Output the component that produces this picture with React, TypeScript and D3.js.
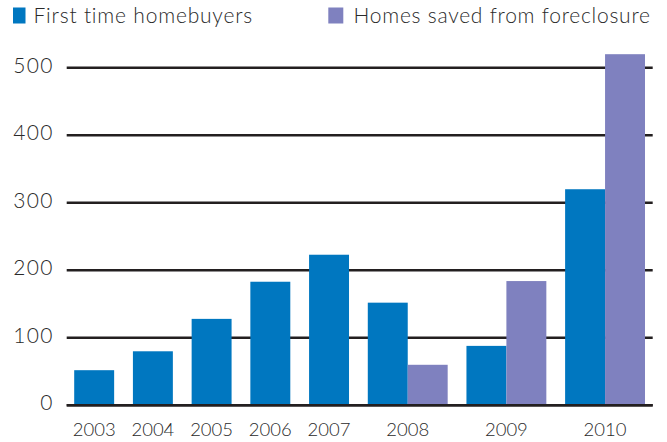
import React from "react";
import * as d3 from "d3";

const years: string[] = ["2003", "2004", "2005", "2006", "2007", "2008", "2009", "2010"];
const firstTimeHomebuyers: (number | null)[] = [52, 80, 128, 183, 223, 152, 88, 320];
const homesSaved: (number | null)[] = [null, null, null, null, null, 60, 184, 520];
const yTicks: number[] = [0, 100, 200, 300, 400, 500];
const seriesNames: string[] = ["First time homebuyers", "Homes saved from foreclosure"];

const W = 667;
const H = 442;
const BLUE = "#0077c0";
const PURPLE = "#7f81bf";
const GRID = "#231f20";
const TEXT = "#2a2a2a";
const FONT = "Lato, 'Open Sans', sans-serif";

export default function App() {
  const plotLeft = 66.7;
  const plotRight = 652.7;
  const barStart = 74.2;
  const barEnd = 645;
  const gapUnits = 0.47;

  const y = d3.scaleLinear().domain([0, 500]).range([405.3, 67.7]);

  const series = [firstTimeHomebuyers, homesSaved];
  const colors = [BLUE, PURPLE];

  const groups = years.map((yr, i) => {
    const vals = series
      .map((s, si) => ({ si, v: s[i] }))
      .filter((d) => d.v !== null && d.v !== undefined) as { si: number; v: number }[];
    return { yr, vals };
  });
  let cursor = 0;
  const groupPos = groups.map((g, i) => {
    const start = cursor;
    cursor += g.vals.length;
    const end = cursor;
    if (i < groups.length - 1) cursor += gapUnits;
    return { ...g, start, end };
  });
  const x = d3.scaleLinear().domain([0, cursor]).range([barStart, barEnd]);

  const ls = 1.3;

  return (
    <svg
      width={W}
      height={H}
      style={{ position: "absolute", left: 0, top: 0, background: "#fff" }}
      fontFamily={FONT}
      fontWeight={300}
    >
      {/* legend */}
      <rect x={13} y={7.5} width={12.5} height={16} fill={BLUE} />
      <text x={33.5} y={22.7} fontSize={21} fill={TEXT} letterSpacing={0.8}>
        {seriesNames[0]}
      </text>
      <rect x={328.3} y={7.5} width={15} height={16} fill={PURPLE} />
      <text x={353.5} y={22.7} fontSize={21} fill={TEXT} letterSpacing={0.75}>
        {seriesNames[1]}
      </text>

      {/* gridlines */}
      {yTicks.map((t) => (
        <line key={"g" + t} x1={plotLeft} x2={plotRight} y1={y(t)} y2={y(t)} stroke={GRID} strokeWidth={2.5} />
      ))}
      {yTicks.map((t) => (
        <text key={"yl" + t} x={52.5 + ls} y={y(t) + 4.8} textAnchor="end" fontSize={21} fill={TEXT} letterSpacing={ls}>
          {t}
        </text>
      ))}

      {/* bars */}
      {groupPos.map((g) =>
        g.vals.map((d, k) => (
          <rect
            key={g.yr + "-" + d.si}
            x={x(g.start + k)}
            width={x(g.start + k + 1) - x(g.start + k)}
            y={y(d.v)}
            height={y(0) - y(d.v)}
            fill={colors[d.si]}
          />
        ))
      )}
      <line x1={plotLeft} x2={plotRight} y1={y(0)} y2={y(0)} stroke={GRID} strokeWidth={2.5} />

      {/* x labels */}
      {groupPos.map((g) => (
        <text
          key={"xl" + g.yr}
          x={(x(g.start) + x(g.end)) / 2}
          y={436}
          textAnchor="middle"
          fontSize={18.5}
          fill={TEXT}
        >
          {g.yr}
        </text>
      ))}
    </svg>
  );
}
